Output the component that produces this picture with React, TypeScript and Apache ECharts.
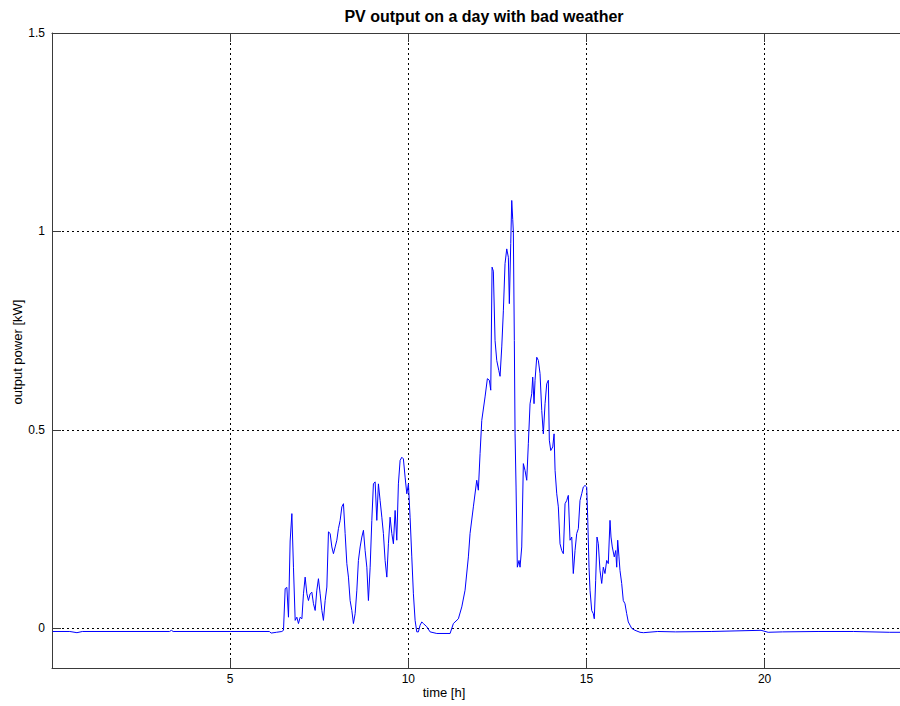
import React, { useEffect, useRef } from "react";
import * as echarts from "echarts";

const TITLE = "PV output on a day with bad weather";
const X_NAME = "time [h]";
const Y_NAME = "output power [kW]";
const X_TICKS = [5, 10, 15, 20];
const Y_TICKS = [0, 0.5, 1, 1.5];

const TIME_H = [
  0.02, 0.5, 0.7, 0.85, 3.3, 3.35, 3.4, 5.0, 6.1, 6.15, 6.3, 6.45,
  6.497, 6.544, 6.592, 6.637, 6.684, 6.732, 6.777, 6.825, 6.872, 6.917, 6.965, 7.013,
  7.058, 7.105, 7.153, 7.198, 7.245, 7.293, 7.338, 7.386, 7.433, 7.478, 7.526, 7.574,
  7.618, 7.666, 7.714, 7.759, 7.806, 7.854, 7.899, 7.947, 7.994, 8.039, 8.087, 8.135,
  8.18, 8.227, 8.275, 8.32, 8.367, 8.415, 8.46, 8.508, 8.556, 8.6, 8.648, 8.696,
  8.741, 8.788, 8.836, 8.881, 8.929, 8.976, 9.021, 9.069, 9.116, 9.161, 9.209, 9.257,
  9.301, 9.349, 9.397, 9.442, 9.489, 9.537, 9.582, 9.63, 9.677, 9.722, 9.77, 9.818,
  9.862, 9.91, 9.958, 10.003, 10.05, 10.098, 10.143, 10.191, 10.238, 10.283, 10.331, 10.379,
  10.424, 10.519, 10.612, 10.8, 11.173, 11.265, 11.405, 11.501, 11.593, 11.686, 11.733, 11.826,
  11.921, 11.966, 12.014, 12.062, 12.154, 12.219, 12.275, 12.314, 12.351, 12.387, 12.435, 12.482,
  12.539, 12.575, 12.623, 12.668, 12.715, 12.763, 12.808, 12.836, 12.875, 12.903, 12.931, 12.948,
  12.976, 12.996, 13.024, 13.06, 13.108, 13.136, 13.184, 13.229, 13.276, 13.324, 13.369, 13.417,
  13.464, 13.492, 13.529, 13.557, 13.605, 13.65, 13.697, 13.745, 13.79, 13.838, 13.885, 13.93,
  13.958, 13.998, 14.054, 14.091, 14.119, 14.166, 14.211, 14.258, 14.306, 14.351, 14.399, 14.446,
  14.491, 14.539, 14.587, 14.631, 14.679, 14.727, 14.772, 14.819, 14.867, 14.912, 14.96, 15.007,
  15.035, 15.072, 15.1, 15.147, 15.192, 15.22, 15.259, 15.296, 15.333, 15.38, 15.428, 15.473,
  15.52, 15.568, 15.613, 15.661, 15.689, 15.725, 15.781, 15.821, 15.849, 15.877, 15.913, 15.941,
  15.989, 16.034, 16.081, 16.129, 16.174, 16.222, 16.269, 16.362, 16.503,
  16.6, 17.0, 17.5, 18.5, 19.9, 20.1, 20.5, 21.5, 22.5, 23.5, 23.8,
];

const POWER_KW = [
  -0.008, -0.008, -0.011, -0.008, -0.008, -0.005, -0.008, -0.008, -0.008, -0.012, -0.01, -0.008,
  -0.005, 0.1, 0.103, 0.028, 0.22, 0.289, 0.154, 0.02, 0.028, 0.012, 0.028, 0.024,
  0.087, 0.129, 0.087, 0.07, 0.087, 0.091, 0.062, 0.045, 0.096, 0.125, 0.087, 0.045,
  0.02, 0.07, 0.104, 0.243, 0.239, 0.205, 0.188, 0.205, 0.222, 0.251, 0.272, 0.306,
  0.314, 0.239, 0.163, 0.129, 0.07, 0.045, 0.012, 0.037, 0.096, 0.171, 0.205, 0.23,
  0.247, 0.196, 0.154, 0.07, 0.154, 0.272, 0.364, 0.369, 0.272, 0.364, 0.322, 0.28,
  0.239, 0.171, 0.129, 0.213, 0.28, 0.239, 0.213, 0.297, 0.222, 0.364, 0.423, 0.431,
  0.427, 0.381, 0.339, 0.364, 0.28, 0.18, 0.087, 0.02, -0.009, -0.009, 0.008, 0.016,
  0.012, 0.004, -0.009, -0.013, -0.013, 0.012, 0.024, 0.054, 0.096, 0.18, 0.239, 0.306,
  0.373, 0.348, 0.44, 0.524, 0.583, 0.629, 0.625, 0.6, 0.91, 0.9, 0.725, 0.675,
  0.65, 0.635, 0.709, 0.8, 0.919, 0.956, 0.935, 0.818, 0.97, 1.078, 1.03, 1.0,
  0.725, 0.49, 0.356, 0.154, 0.171, 0.154, 0.205, 0.415, 0.398, 0.373, 0.465, 0.566,
  0.591, 0.633, 0.566, 0.625, 0.683, 0.675, 0.642, 0.549, 0.49, 0.566, 0.616, 0.625,
  0.474, 0.448, 0.457, 0.49, 0.398, 0.339, 0.306, 0.213, 0.196, 0.188, 0.314, 0.322,
  0.335, 0.222, 0.23, 0.138, 0.196, 0.239, 0.251, 0.322, 0.339, 0.356, 0.36, 0.356,
  0.28, 0.154, 0.096, 0.045, 0.037, 0.024, 0.121, 0.23, 0.213, 0.146, 0.113, 0.154,
  0.138, 0.171, 0.163, 0.272, 0.23, 0.205, 0.18, 0.196, 0.154, 0.222, 0.18, 0.146,
  0.113, 0.07, 0.062, 0.037, 0.016, 0.008, 0.0, -0.005, -0.01,
  -0.011, -0.008, -0.009, -0.008, -0.005, -0.01, -0.009, -0.008, -0.008, -0.01, -0.01,
];

const FONT = "'Liberation Sans', Arial, Helvetica, sans-serif";

export default function App() {
  const ref = useRef<HTMLDivElement>(null);

  useEffect(() => {
    document.body.style.margin = "0";
    if (!ref.current) return;
    const chart = echarts.init(ref.current, undefined, { renderer: "svg" });
    const data = TIME_H.map((t, i) => [t, POWER_KW[i]]);
    const gridLine = { show: true, lineStyle: { color: "#000", type: [2, 3] as any, width: 1 } };
    const axisLine = { show: true, onZero: false, lineStyle: { color: "#3a3a3a", width: 1 } };
    chart.setOption({
      animation: false,
      backgroundColor: "#fff",
      title: {
        text: TITLE,
        left: 479,
        textAlign: "center",
        top: 3,
        textStyle: { fontFamily: FONT, fontSize: 16, fontWeight: "bold", color: "#000" },
      },
      grid: { left: 52, right: 0, top: 33, bottom: 38, containLabel: false },
      xAxis: [
        {
          type: "value",
          min: 0,
          max: 23.8,
          position: "bottom",
          axisLine,
          axisTick: { show: true, inside: true, length: 9, customValues: X_TICKS, lineStyle: { color: "#3a3a3a" } },
          axisLabel: { show: true, customValues: X_TICKS, color: "#000", fontFamily: FONT, fontSize: 12, margin: 5 },
          splitLine: gridLine,
        },
        {
          type: "value",
          min: 0,
          max: 23.8,
          position: "top",
          axisLine,
          axisTick: { show: true, inside: true, length: 9, customValues: X_TICKS, lineStyle: { color: "#3a3a3a" } },
          axisLabel: { show: false },
          splitLine: { show: false },
        },
      ],
      yAxis: {
        type: "value",
        min: -0.1,
        max: 1.5,
        axisLine,
        axisTick: { show: true, inside: true, length: 9, customValues: Y_TICKS, lineStyle: { color: "#3a3a3a" } },
        axisLabel: { show: true, customValues: Y_TICKS, color: "#000", fontFamily: FONT, fontSize: 12, margin: 7 },
        splitLine: gridLine,
      },
      graphic: [
        {
          type: "text",
          x: 444,
          y: 692,
          style: { text: X_NAME, fontFamily: FONT, fontSize: 13, fill: "#000", textAlign: "center", textVerticalAlign: "middle" },
        },
        {
          type: "text",
          x: 17,
          y: 352,
          rotation: Math.PI / 2,
          style: { text: Y_NAME, fontFamily: FONT, fontSize: 13, fill: "#000", textAlign: "center", textVerticalAlign: "middle" },
        },
      ],
      series: [
        {
          type: "line",
          data,
          xAxisIndex: 0,
          showSymbol: false,
          symbol: "none",
          lineStyle: { color: "#0000ff", width: 1 },
          itemStyle: { color: "#0000ff" },
          silent: true,
        },
      ],
    });
    return () => chart.dispose();
  }, []);

  return <div ref={ref} style={{ width: 900, height: 706 }} />;
}
